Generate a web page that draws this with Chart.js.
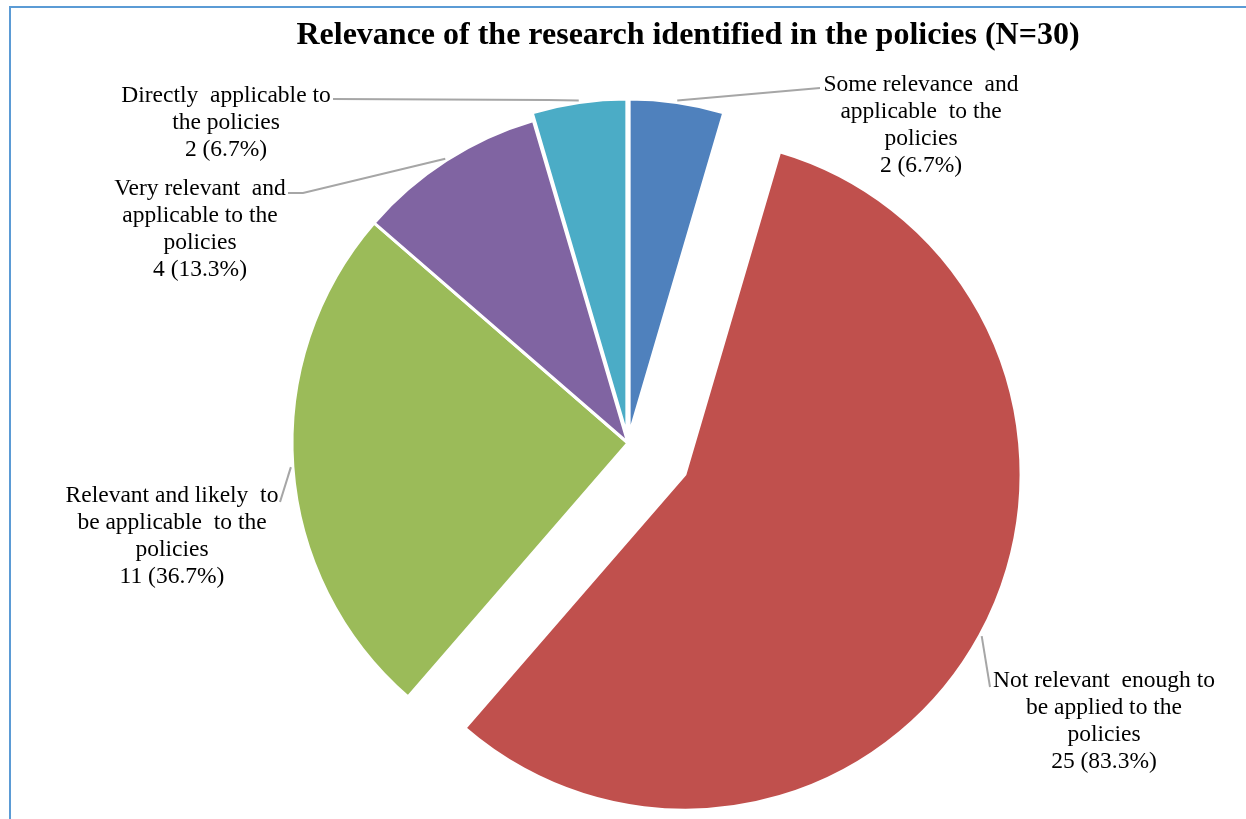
<!DOCTYPE html>
<html>
<head>
<meta charset="utf-8">
<script src="https://cdn.jsdelivr.net/npm/chart.js@4.4.0/dist/chart.umd.min.js"></script>
<style>
html, body { margin: 0; padding: 0; background: #ffffff; overflow: hidden; }
#wrap { position: relative; width: 1246px; height: 819px; }
#frame { position: absolute; left: 9px; top: 6px; width: 1300px; height: 900px; border: 2px solid #5b9bd5; box-sizing: border-box; pointer-events: none; }
canvas { position: absolute; left: 0; top: 0; }
</style>
</head>
<body>
<div id="wrap">
  <canvas id="c" width="1246" height="819"></canvas>
  <div id="frame"></div>
</div>
<script>
// ---- data ----
const chartTitle = 'Relevance of the research identified in the policies (N=30)';
const totalN = 30;
const categories = [
  ['Some relevance  and', 'applicable  to the', 'policies'],
  ['Not relevant  enough to', 'be applied to the', 'policies'],
  ['Relevant and likely  to', 'be applicable  to the', 'policies'],
  ['Very relevant  and', 'applicable to the', 'policies'],
  ['Directly  applicable to', 'the policies']
];
const counts = [2, 25, 11, 4, 2];
const sliceColors = ['#4F81BD', '#C0504D', '#9BBB59', '#8064A2', '#4BACC6'];

// ---- styling / layout (not data) ----
const explode = [8, 65, 0, 0, 8];
const labelFont = '23.5px "Liberation Serif", "Times New Roman", serif';
const labelLineHeight = 27;
const labelLayout = [
  { cx: 921,  y: 91,  path: [[820, 88]] },
  { cx: 1104, y: 687, path: [[990, 687]] },
  { cx: 172,  y: 502, path: [[280, 502]] },
  { cx: 200,  y: 195, path: [[288, 193], [303, 193]] },
  { cx: 226,  y: 102, path: [[333, 99], [548, 100]] }
];

const explodePlugin = {
  id: 'explode',
  afterUpdate(chart) {
    const meta = chart.getDatasetMeta(0);
    meta.data.forEach((arc, i) => {
      const d = explode[i] || 0;
      if (!d) return;
      const mid = (arc.startAngle + arc.endAngle) / 2;
      arc.x += Math.cos(mid) * d;
      arc.y += Math.sin(mid) * d;
    });
  }
};

const labelPlugin = {
  id: 'pieLabels',
  afterDraw(chart) {
    const ctx = chart.ctx;
    const meta = chart.getDatasetMeta(0);
    ctx.save();
    // title
    ctx.fillStyle = '#000000';
    ctx.font = 'bold 32px "Liberation Serif", "Times New Roman", serif';
    ctx.textAlign = 'center';
    ctx.textBaseline = 'alphabetic';
    ctx.fillText(chartTitle, 688, 44);

    meta.data.forEach((arc, i) => {
      const lay = labelLayout[i];
      const mid = (arc.startAngle + arc.endAngle) / 2;
      const r = arc.outerRadius + 2;
      const ex = arc.x + Math.cos(mid) * r;
      const ey = arc.y + Math.sin(mid) * r;
      ctx.strokeStyle = '#a6a6a6';
      ctx.lineWidth = 2;
      ctx.beginPath();
      ctx.moveTo(lay.path[0][0], lay.path[0][1]);
      for (let k = 1; k < lay.path.length; k++) ctx.lineTo(lay.path[k][0], lay.path[k][1]);
      ctx.lineTo(ex, ey);
      ctx.stroke();

      const lines = categories[i].concat([
        counts[i] + ' (' + (counts[i] / totalN * 100).toFixed(1) + '%)'
      ]);
      ctx.fillStyle = '#000000';
      ctx.font = labelFont;
      ctx.textAlign = 'center';
      lines.forEach((t, k) => ctx.fillText(t, lay.cx, lay.y + k * labelLineHeight));
    });
    ctx.restore();
  }
};

new Chart(document.getElementById('c'), {
  type: 'pie',
  data: {
    labels: categories,
    datasets: [{
      data: counts,
      backgroundColor: sliceColors,
      borderColor: '#ffffff',
      borderWidth: 3
    }]
  },
  options: {
    responsive: false,
    animation: false,
    events: [],
    radius: 336,
    layout: { padding: { left: 10, right: 0, top: 67, bottom: 0 } },
    plugins: {
      legend: { display: false },
      title: { display: false },
      tooltip: { enabled: false }
    }
  },
  plugins: [explodePlugin, labelPlugin]
});
</script>
</body>
</html>
